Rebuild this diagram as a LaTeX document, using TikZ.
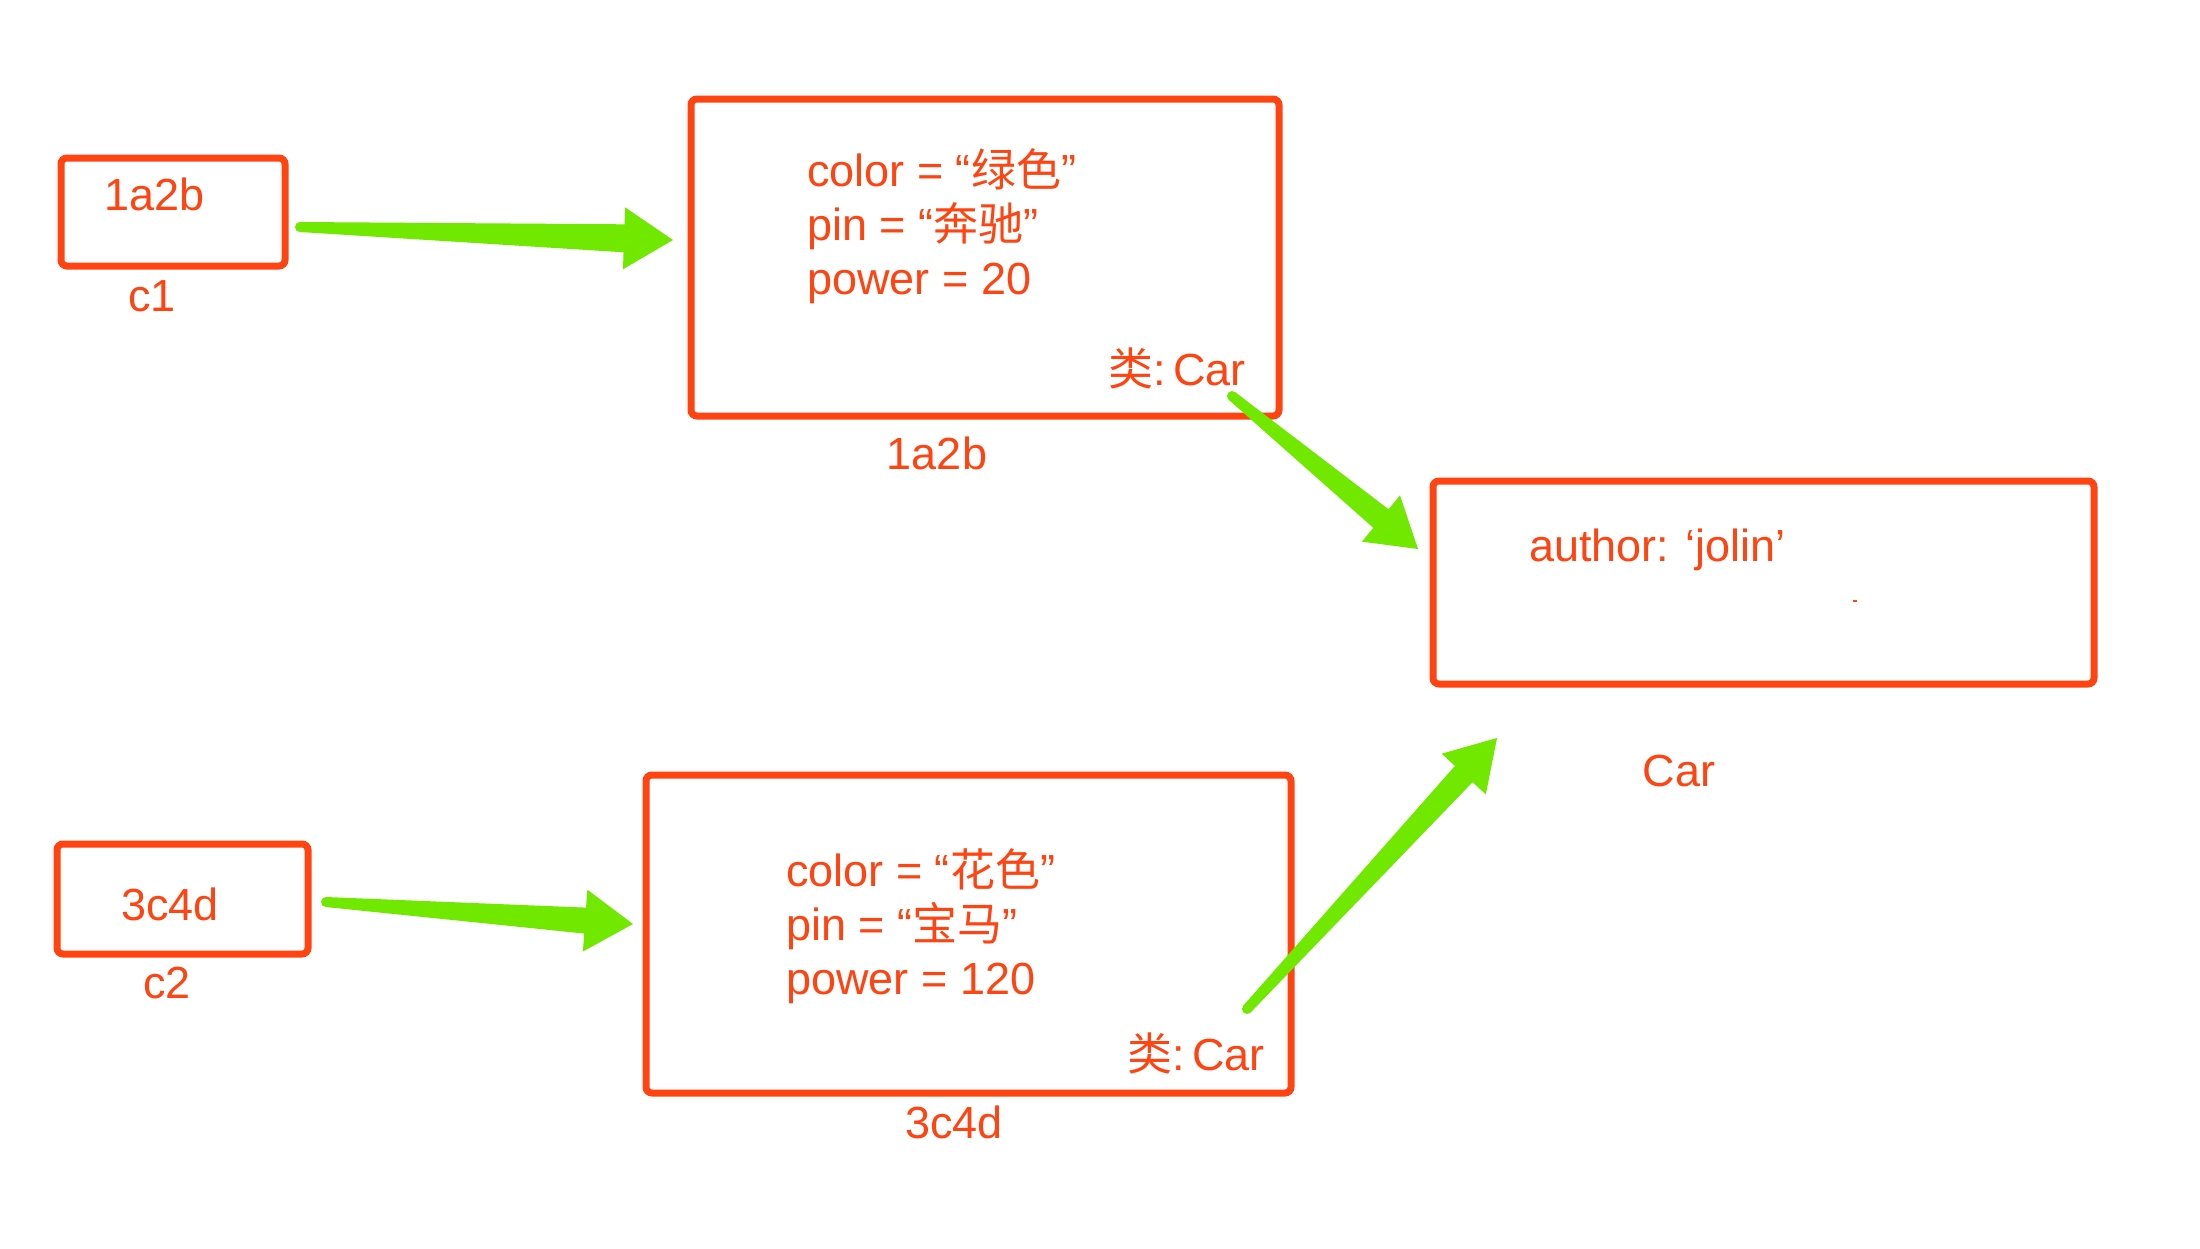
\documentclass[tikz,border=0pt]{standalone}
\usepackage{fontspec}
\setmainfont{Liberation Sans}
\newfontfamily\cjk{Noto Sans CJK SC}
\usetikzlibrary{calc}
\definecolor{boxred}{RGB}{255,68,18}
\definecolor{arrowgreen}{RGB}{112,232,0}
\newcommand\fatarrow[7]{%
  \coordinate (#7b) at ($(#2)!#6!(#1)$);
  \fill[arrowgreen] ($(#1)!#3!90:(#2)$) -- ($(#7b)!#4!90:(#2)$) -- ($(#7b)!#5!90:(#2)$) -- (#2)
    -- ($(#7b)!#5!-90:(#2)$) -- ($(#7b)!#4!-90:(#2)$) -- ($(#1)!#3!-90:(#2)$) -- cycle;
  \fill[arrowgreen] (#1) circle (#3);
}
\tikzset{
  box/.style={draw=boxred, line width=7pt, rounded corners=6pt, inner sep=0pt},
  txt/.style={text=boxred, inner sep=0pt, font=\fontsize{45}{54}\selectfont},
}
\begin{document}
\begin{tikzpicture}[x=1pt,y=-1pt]
\useasboundingbox[fill=white] (0,0) rectangle (2200,1248);
% boxes
\node[box, minimum width=224pt, minimum height=108pt] (c1) at (173,212) {};
\node[box, minimum width=588pt, minimum height=317pt] (o1) at (985,257.5) {};
\node[box, minimum width=661pt, minimum height=203pt] (car) at (1763.5,582.5) {};
\node[box, minimum width=251pt, minimum height=110pt] (c2) at (182.5,899) {};
\node[box, minimum width=645pt, minimum height=318pt] (o2) at (968.5,934) {};
% texts
\node[txt, anchor=base west] (c1v) at (104,210) {1a2b};
\node[txt, anchor=base] (c1l) at (152,311) {c1};
\node[txt, anchor=base west, align=left] (o1t) at (807,294) {color = “{\cjk 绿色}”\\pin = “{\cjk 奔驰}”\\power = 20};
\node[txt, anchor=base east] (o1c) at (1246,385) {{\cjk 类}:\,Car};
\node[txt, anchor=base] (o1l) at (937,469) {1a2b};
\node[txt, anchor=base west] (cart) at (1529,561) {author: ‘jolin’};
\node[txt, anchor=base] (carl) at (1679,786) {Car};
\node[txt, anchor=base] (c2v) at (170,920) {3c4d};
\node[txt, anchor=base] (c2l) at (167,998) {c2};
\node[txt, anchor=base west, align=left] (o2t) at (786,994) {color = “{\cjk 花色}”\\pin = “{\cjk 宝马}”\\power = 120};
\node[txt, anchor=base east] (o2c) at (1265,1070) {{\cjk 类}:\,Car};
\node[txt, anchor=base] (o2l) at (954,1138) {3c4d};
\fill[boxred] (1853,600) rectangle (1857,601.5);
% arrows
\coordinate (a1t) at (300,227);
\coordinate (a1p) at (673,240);
\coordinate (a2t) at (326,902);
\coordinate (a2p) at (633,924);
\coordinate (a3t) at (1232,396);
\coordinate (a3p) at (1418,549);
\coordinate (a4t) at (1247,1009);
\coordinate (a4p) at (1497,738);
\fatarrow{a1t}{a1p}{5pt}{14pt}{31pt}{49pt}{a1}
\fatarrow{a2t}{a2p}{5pt}{13pt}{31pt}{48pt}{a2}
\fatarrow{a3t}{a3p}{5pt}{12pt}{30pt}{48pt}{a3}
\fatarrow{a4t}{a4p}{5pt}{12pt}{30pt}{49pt}{a4}
\end{tikzpicture}
\end{document}
